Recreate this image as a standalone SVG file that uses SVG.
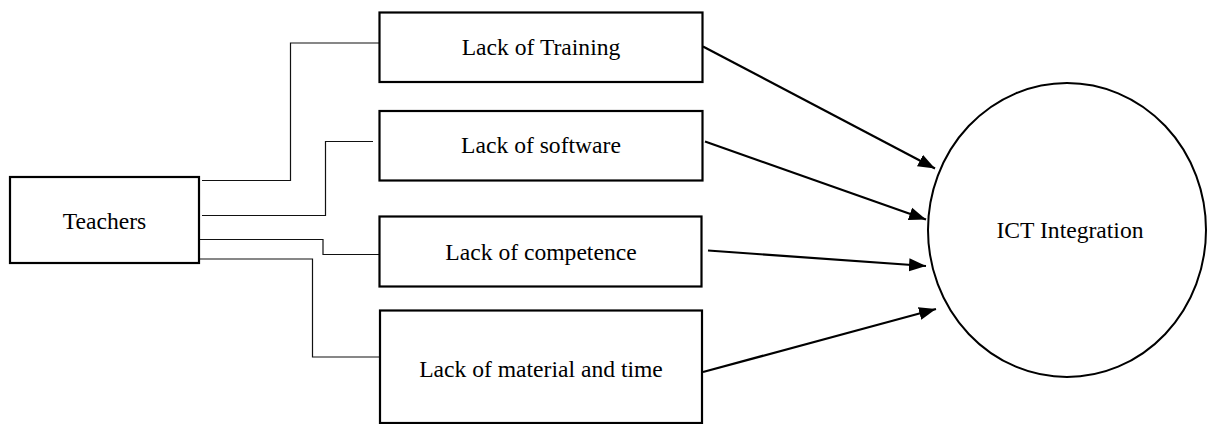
<svg xmlns="http://www.w3.org/2000/svg" width="1208" height="424" viewBox="0 0 1208 424">
<style>
.box{fill:#fff;stroke:#000;stroke-width:2.2}
text{font-family:'Liberation Serif','Times New Roman','DejaVu Serif',serif;font-size:23.6px;fill:#000;text-anchor:middle}
.link{fill:none;stroke:#111;stroke-width:1.2}
.arr{fill:none;stroke:#000;stroke-width:2.2}
</style>
<defs>
<marker id="ah" markerUnits="userSpaceOnUse" markerWidth="18" markerHeight="14" refX="17" refY="7" orient="auto">
<path d="M0,0.5 L17,7 L0,13.5 z" fill="#000"/>
</marker>
</defs>
<rect width="1208" height="424" fill="#fff"/>
<g id="connectors">
<path class="link" d="M202,180.5 H290.5 V43 H380"/>
<path class="link" d="M202,215.5 H325.5 V141.5 H373"/>
<path class="link" d="M199,239.5 H323 V254.5 H380"/>
<path class="link" d="M195,259 H312.5 V357 H380"/>
<line class="arr" x1="703" y1="46.5" x2="935" y2="168.5" marker-end="url(#ah)"/>
<line class="arr" x1="705" y1="141.5" x2="926" y2="219.5" marker-end="url(#ah)"/>
<line class="arr" x1="708" y1="250.5" x2="926" y2="266" marker-end="url(#ah)"/>
<line class="arr" x1="703" y1="372" x2="936" y2="309" marker-end="url(#ah)"/>
</g>
<g id="teachers">
<rect class="box" x="10" y="177" width="189" height="86"/>
<text x="104.5" y="229" font-family="Liberation Serif, serif">Teachers</text>
</g>
<g id="training">
<rect class="box" x="379.5" y="12.5" width="323" height="69.5"/>
<text x="541" y="55" font-family="Liberation Serif, serif">Lack of Training</text>
</g>
<g id="software">
<rect class="box" x="379.5" y="111" width="323" height="69.5"/>
<text x="541" y="153" font-family="Liberation Serif, serif">Lack of software</text>
</g>
<g id="competence">
<rect class="box" x="379.5" y="216.5" width="322" height="70"/>
<text x="541" y="260" font-family="Liberation Serif, serif">Lack of competence</text>
</g>
<g id="material">
<rect class="box" x="380" y="310.5" width="322" height="112.5"/>
<text x="541" y="377" font-family="Liberation Serif, serif">Lack of material and time</text>
</g>
<g id="ict">
<ellipse cx="1067" cy="230" rx="139" ry="147" fill="#fff" stroke="#000" stroke-width="2"/>
<text x="1070" y="238" font-family="Liberation Serif, serif">ICT Integration</text>
</g>
</svg>
